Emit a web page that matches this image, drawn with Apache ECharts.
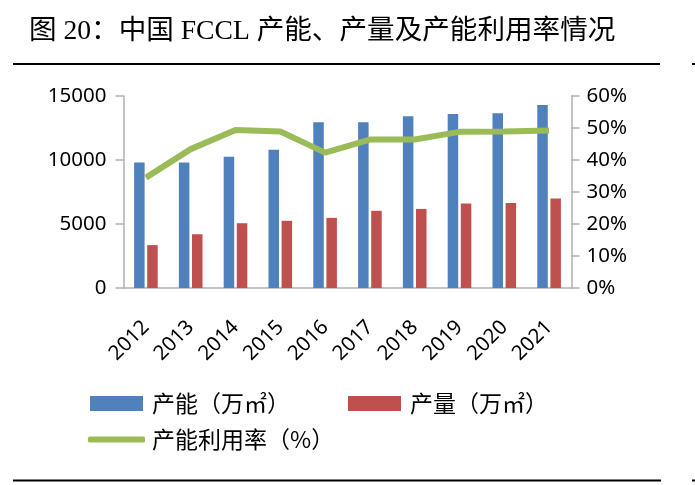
<!DOCTYPE html>
<html>
<head>
<meta charset="utf-8">
<script src="https://cdn.jsdelivr.net/npm/echarts@6/dist/echarts.min.js"></script>
<style>
html,body{margin:0;padding:0;background:#fff;}
#c{width:695px;height:485px;}
</style>
</head>
<body>
<div id="c"></div>
<script>
var years = ['2012','2013','2014','2015','2016','2017','2018','2019','2020','2021'];
var capacity = [9800, 9800, 10250, 10800, 12950, 12950, 13420, 13600, 13650, 14300];
var output = [3350, 4200, 5060, 5250, 5480, 6030, 6180, 6600, 6650, 7000];
var utilization = [34.5, 43.4, 49.4, 48.9, 42.3, 46.4, 46.4, 48.8, 48.9, 49.2];
var leftTicks = [0, 5000, 10000, 15000];
var rightTicks = [0, 10, 20, 30, 40, 50, 60];

var chart = echarts.init(document.getElementById('c'));
var numFont = '"Noto Sans", "DejaVu Sans", sans-serif';
var cjkFont = '"Noto Sans CJK SC", sans-serif';
var axisGray = '#b0b0b0';

chart.setOption({
  animation: false,
  backgroundColor: '#fff',
  graphic: [
    { type: 'text', left: 29, top: 18,
      style: { text: '图 20：中国 FCCL 产能、产量及产能利用率情况',
        font: '27.6px "Liberation Serif", "Noto Sans CJK SC", serif', fill: '#000' } },
    { type: 'line', shape: { x1: 13, y1: 64, x2: 660, y2: 64 }, style: { stroke: '#000', lineWidth: 2 } },
    { type: 'line', shape: { x1: 692, y1: 64, x2: 695, y2: 64 }, style: { stroke: '#000', lineWidth: 2 } },
    { type: 'line', shape: { x1: 13, y1: 480.5, x2: 661, y2: 480.5 }, style: { stroke: '#000', lineWidth: 2 } },
    { type: 'line', shape: { x1: 692, y1: 480.5, x2: 695, y2: 480.5 }, style: { stroke: '#000', lineWidth: 2 } }
  ],
  grid: { left: 123.5, right: 123.5, top: 96, bottom: 197, containLabel: false },
  legend: [
    { data: ['产能（万㎡）'], left: 90, top: 392, padding: 0, itemWidth: 53, itemHeight: 15, icon: 'rect',
      textStyle: { fontFamily: cjkFont, fontSize: 23, color: '#000', padding: [0,0,0,4] } },
    { data: ['产量（万㎡）'], left: 348, top: 392, padding: 0, itemWidth: 53, itemHeight: 15, icon: 'rect',
      textStyle: { fontFamily: cjkFont, fontSize: 23, color: '#000', padding: [0,0,0,4] } },
    { data: ['产能利用率（%）'], left: 88, top: 428, padding: 0, itemWidth: 57, itemHeight: 6, icon: 'roundRect',
      textStyle: { fontFamily: cjkFont, fontSize: 23, color: '#000', padding: [0,0,0,2] } }
  ],
  xAxis: {
    type: 'category', data: years,
    axisLine: { lineStyle: { color: axisGray, width: 1.5 } },
    axisTick: { show: false },
    axisLabel: { rotate: 45, margin: 36, fontFamily: numFont, fontSize: 20.5, color: '#000', interval: 0 }
  },
  yAxis: [
    { type: 'value', min: 0, max: 15000, interval: 5000,
      axisLine: { show: true, lineStyle: { color: axisGray, width: 1.5 } },
      axisTick: { show: true, length: 8, lineStyle: { color: axisGray, width: 1.5 } },
      splitLine: { show: false },
      axisLabel: { margin: 17, fontFamily: numFont, fontSize: 20.5, color: '#000',
        formatter: function (v) { return String(v); } } },
    { type: 'value', min: 0, max: 60, interval: 10, position: 'right',
      axisLine: { show: true, lineStyle: { color: axisGray, width: 1.5 } },
      axisTick: { show: true, length: 8, lineStyle: { color: axisGray, width: 1.5 } },
      splitLine: { show: false },
      axisLabel: { margin: 15, fontFamily: numFont, fontSize: 20.5, color: '#000', formatter: '{value}%' } }
  ],
  series: [
    { name: '产能（万㎡）', type: 'bar', data: capacity, barWidth: 10.5, barGap: '25%',
      itemStyle: { color: '#4f81bd' } },
    { name: '产量（万㎡）', type: 'bar', data: output, barWidth: 10.5,
      itemStyle: { color: '#c0504d' } },
    { name: '产能利用率（%）', type: 'line', yAxisIndex: 1, data: utilization,
      symbol: 'none', lineStyle: { color: '#9bbb59', width: 6 }, itemStyle: { color: '#9bbb59' } }
  ]
});
</script>
</body>
</html>
